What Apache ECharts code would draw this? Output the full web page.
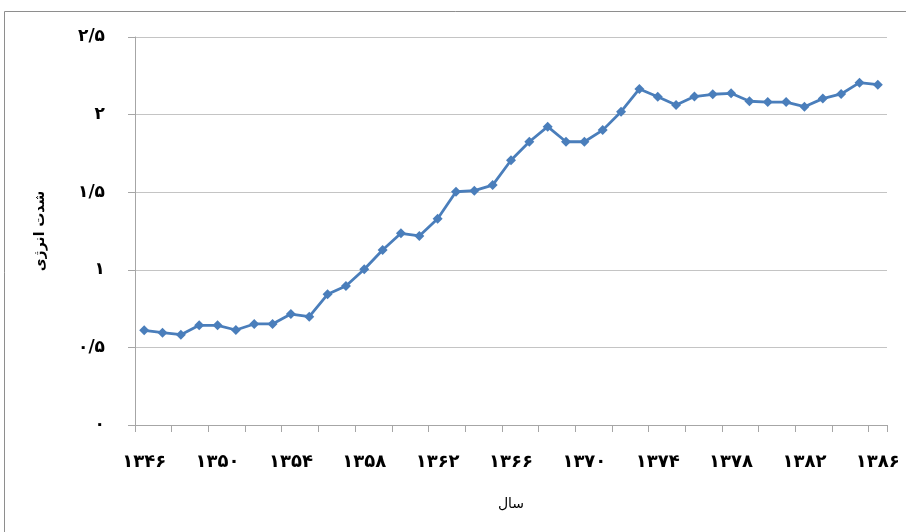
<!DOCTYPE html>
<html>
<head>
<meta charset="utf-8">
<script src="https://cdn.jsdelivr.net/npm/echarts@6/dist/echarts.min.js"></script>
<style>html,body{margin:0;padding:0;background:#fff}#c{width:906px;height:532px}</style>
</head>
<body>
<div id="c"></div>
<script>
var years = [1346,1347,1348,1349,1350,1351,1352,1353,1354,1355,1356,1357,1358,1359,1360,1361,1362,1363,1364,1365,1366,1367,1368,1369,1370,1371,1372,1373,1374,1375,1376,1377,1378,1379,1380,1381,1382,1383,1384,1385,1386];
var intensity = [0.61,0.595,0.582,0.642,0.642,0.612,0.651,0.651,0.715,0.698,0.842,0.896,1.003,1.128,1.235,1.218,1.329,1.503,1.51,1.546,1.706,1.825,1.922,1.825,1.825,1.90,2.019,2.165,2.115,2.062,2.116,2.131,2.137,2.086,2.081,2.081,2.051,2.103,2.133,2.206,2.193];
var yTicks = [0, 0.5, 1, 1.5, 2, 2.5];
var yTitle = 'شدت انرژی';
var xTitle = 'سال';

var fa = '۰۱۲۳۴۵۶۷۸۹';
function toFa(v){ return String(v).replace(/[0-9]/g, function(d){return fa[+d];}).replace('.', '/'); }

var chart = echarts.init(document.getElementById('c'), null, {renderer:'canvas'});
chart.setOption({
  animation:false,
  backgroundColor:'#fff',
  graphic:[{type:'rect', shape:{x:4.5,y:11.5,width:1000,height:1000}, style:{fill:'none', stroke:'#8e8e8e', lineWidth:1}}],
  grid:{left:135, right:19, top:37, bottom:107},
  xAxis:{
    type:'category', data:years.map(toFa), boundaryGap:true,
    name:xTitle, nameLocation:'middle', nameGap:72,
    nameTextStyle:{fontFamily:'DejaVu Sans', fontSize:14, color:'#000'},
    axisLine:{lineStyle:{color:'#a6a6a6', width:1}},
    axisTick:{show:true, interval:1, length:7, lineStyle:{color:'#a6a6a6'}},
    axisLabel:{interval:3, margin:28, fontFamily:'DejaVu Sans', fontWeight:'bold', fontSize:18, color:'#000'},
    splitLine:{show:false}
  },
  yAxis:{
    type:'value', min:yTicks[0], max:yTicks[yTicks.length-1], interval:0.5,
    name:yTitle, nameLocation:'middle', nameGap:88, nameRotate:90,
    nameTextStyle:{fontFamily:'DejaVu Sans', fontSize:14, fontWeight:'bold', color:'#000'},
    axisLine:{show:true, lineStyle:{color:'#a6a6a6', width:1}},
    axisTick:{show:true, length:7, lineStyle:{color:'#a6a6a6'}},
    axisLabel:{margin:30, fontFamily:'DejaVu Sans', fontWeight:'bold', fontSize:17, color:'#000', formatter:function(v){return toFa(v);}},
    splitLine:{show:true, lineStyle:{color:'#c4c4c4', width:1}}
  },
  series:[{
    type:'line', data:intensity,
    symbol:'diamond', symbolSize:10,
    itemStyle:{color:'#4a7ebb'},
    lineStyle:{color:'#4a7ebb', width:2.8}
  }]
});
</script>
</body>
</html>
